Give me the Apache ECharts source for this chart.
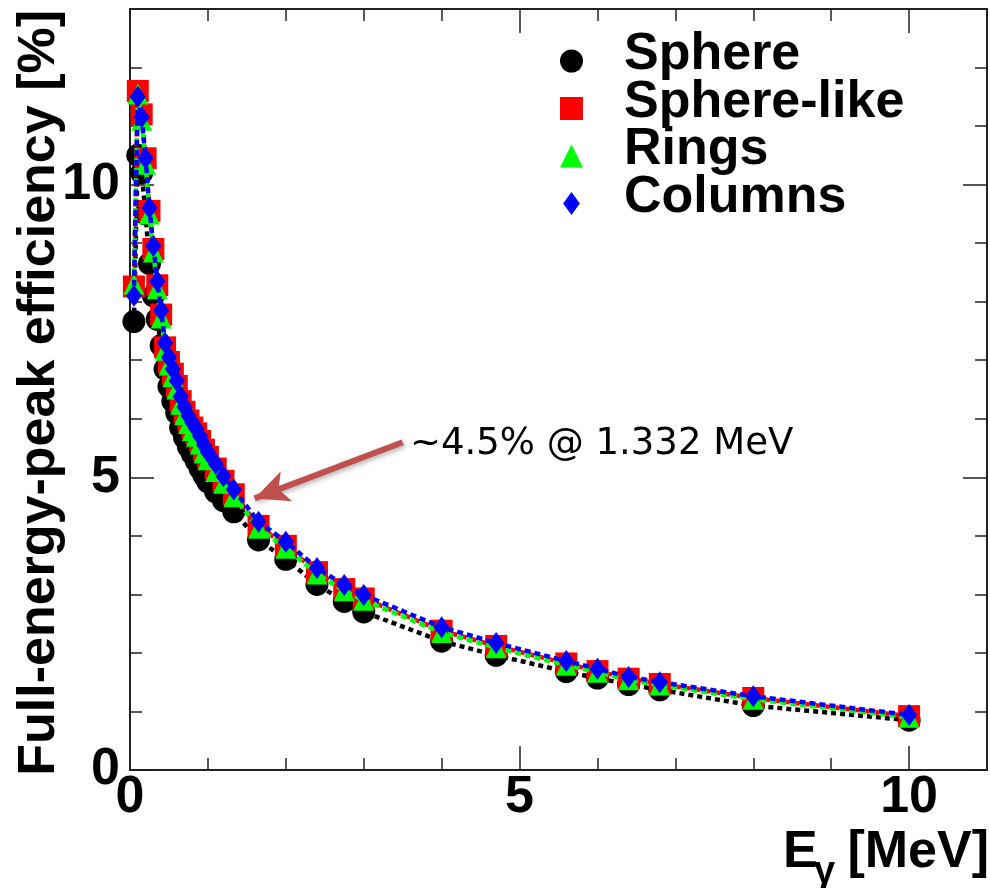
<!DOCTYPE html>
<html>
<head>
<meta charset="utf-8">
<script src="https://cdn.jsdelivr.net/npm/echarts@6/dist/echarts.min.js"></script>
<style>
html,body{margin:0;padding:0;background:#fff;}
#chart{width:990px;height:888px;}
</style>
</head>
<body>
<div id="chart"></div>
<script>
// ---- data ----
const energies = [0.05, 0.1, 0.15, 0.2, 0.25, 0.3, 0.35, 0.4, 0.45, 0.5, 0.55, 0.6, 0.65, 0.7, 0.75, 0.8, 0.85, 0.9, 0.95, 1.0, 1.1, 1.2, 1.332, 1.65, 2.0, 2.4, 2.75, 3.0, 4.0, 4.7, 5.6, 6.0, 6.4, 6.8, 8.0, 10.0];
const sphere = [7.66, 10.5, 10.2, 9.5, 8.65, 8.1, 7.7, 7.25, 6.85, 6.55, 6.3, 6.1, 5.85, 5.68, 5.52, 5.4, 5.28, 5.15, 5.03, 4.92, 4.75, 4.6, 4.41, 3.93, 3.6, 3.17, 2.88, 2.7, 2.2, 1.96, 1.68, 1.57, 1.46, 1.37, 1.1, 0.85];
const sphereLike = [8.26, 11.6, 11.2, 10.45, 9.55, 8.9, 8.28, 7.78, 7.22, 6.97, 6.77, 6.56, 6.3, 6.12, 5.97, 5.85, 5.75, 5.62, 5.47, 5.35, 5.15, 4.94, 4.71, 4.17, 3.83, 3.38, 3.09, 2.93, 2.38, 2.12, 1.82, 1.69, 1.56, 1.47, 1.23, 0.92];
const rings = [8.3, 11.55, 11.1, 10.35, 9.5, 8.85, 8.22, 7.72, 7.17, 6.92, 6.72, 6.51, 6.25, 6.07, 5.92, 5.8, 5.7, 5.57, 5.42, 5.3, 5.1, 4.9, 4.67, 4.13, 3.79, 3.35, 3.06, 2.9, 2.35, 2.09, 1.79, 1.67, 1.54, 1.45, 1.21, 0.9];
const columns = [8.1, 11.5, 11.15, 10.45, 9.6, 8.95, 8.35, 7.85, 7.3, 7.05, 6.85, 6.65, 6.38, 6.2, 6.05, 5.93, 5.83, 5.7, 5.55, 5.43, 5.23, 5.02, 4.79, 4.24, 3.9, 3.45, 3.16, 2.99, 2.44, 2.17, 1.86, 1.73, 1.59, 1.5, 1.26, 0.94];
const seriesNames = ['Sphere', 'Sphere-like', 'Rings', 'Columns'];
const xTickLabels = [0, 5, 10];
const yTickLabels = [0, 5, 10];
const annotationText = '~4.5% @ 1.332 MeV';
const arrowFrom = [3.50, 5.60];
const arrowTo = [1.60, 4.64];

// ---- helpers ----
const FONT = 'Liberation Sans';
const AX = '#222';
function pairs(ys) { return energies.map((e, i) => [e, ys[i]]); }

function xAxis(pos, interval, len, labels) {
  return {
    type: 'value', min: 0, max: 11, interval: interval, position: pos,
    axisLine: { show: interval === 1, onZero: false, lineStyle: { color: AX, width: 2 } },
    axisTick: { show: true, inside: true, length: len, lineStyle: { color: AX, width: 1.5 } },
    axisLabel: labels ? {
      show: true, margin: 2, fontSize: 52, fontWeight: 'bold', fontFamily: FONT, color: '#000',
      formatter: v => xTickLabels.indexOf(v) >= 0 ? String(v) : ''
    } : { show: false },
    splitLine: { show: false }
  };
}
function yAxis(pos, interval, len, labels) {
  return {
    type: 'value', min: 0, max: 13, interval: interval, position: pos,
    axisLine: { show: interval === 1, onZero: false, lineStyle: { color: AX, width: 2 } },
    axisTick: { show: true, inside: true, length: len, lineStyle: { color: AX, width: 1.5 } },
    axisLabel: labels ? {
      show: true, margin: 10, fontSize: 52, fontWeight: 'bold', fontFamily: FONT, color: '#000',
      formatter: v => yTickLabels.indexOf(v) >= 0 ? String(v) : ''
    } : { show: false },
    splitLine: { show: false }
  };
}

const colors = ['#000000', '#ff0000', '#00ff00', '#0000ff'];
const symbols = ['circle', 'rect', 'triangle', 'diamond'];
const sizes = [23, 22, 21, [16, 22]];
const dashes = [[5, 4], [6, 4], [6, 4], [6, 4]];
const values = [sphere, sphereLike, rings, columns];

const series = seriesNames.map((name, k) => ({
  name: name, type: 'line', xAxisIndex: 0, yAxisIndex: 0,
  data: pairs(values[k]),
  symbol: symbols[k], symbolSize: sizes[k], showSymbol: true, showAllSymbol: true,
  itemStyle: { color: colors[k] },
  lineStyle: { color: colors[k], width: 4.5, type: dashes[k] },
  z: 2 + k
}));
series[3].markLine = {
  silent: true, animation: false,
  symbol: ['none', 'arrow'], symbolSize: [24, 34],
  label: { show: false },
  lineStyle: { color: '#C0504D', width: 6, type: 'solid', shadowBlur: 5, shadowColor: 'rgba(0,0,0,0.3)', shadowOffsetX: 2, shadowOffsetY: 2 },
  data: [[{ coord: arrowFrom }, { coord: arrowTo }]]
};

const chart = echarts.init(document.getElementById('chart'), null, { renderer: 'canvas' });
chart.setOption({
  animation: false,
  backgroundColor: '#fff',
  grid: { left: 130, right: -2, top: 9, bottom: 118, containLabel: false },
  xAxis: [xAxis('bottom', 1, 12, false), xAxis('bottom', 5, 24, true), xAxis('top', 1, 12, false), xAxis('top', 5, 24, false)],
  yAxis: [yAxis('left', 1, 12, false), yAxis('left', 5, 24, true), yAxis('right', 1, 12, false), yAxis('right', 5, 24, false)],
  legend: {
    orient: 'vertical', left: 560, top: 29, padding: 0,
    itemWidth: 23, itemHeight: 23, itemGap: -16.5, selectedMode: false,
    data: [
      { name: 'Sphere', icon: 'circle' },
      { name: 'Sphere-like', icon: 'rect' },
      { name: 'Rings', icon: 'triangle' },
      { name: 'Columns', icon: 'path://M8,0L16,11L8,22L0,11Z' }
    ],
    formatter: name => '{t|' + name + '}',
    textStyle: {
      fontSize: 52, fontWeight: 'bold', fontFamily: FONT, color: '#000',
      rich: { t: { fontSize: 52, fontWeight: 'bold', fontFamily: FONT, color: '#000', lineHeight: 52, padding: [0, 0, 12, 36] } }
    }
  },
  graphic: [
    { type: 'text', x: 40, y: 10, rotation: Math.PI / 2,
      style: { text: 'Full-energy-peak efficiency [%]', font: 'bold 52px "Liberation Sans"', fill: '#000', align: 'right', verticalAlign: 'middle' } },
    { type: 'text', x: 783, y: 853,
      style: { text: 'E', font: 'bold 52px "Liberation Sans"', fill: '#000', align: 'left', verticalAlign: 'middle' } },
    { type: 'text', x: 814, y: 873,
      style: { text: 'γ', font: 'bold 38px "Liberation Sans"', fill: '#000', align: 'left', verticalAlign: 'middle' } },
    { type: 'text', x: 989, y: 853,
      style: { text: '[MeV]', font: 'bold 52px "Liberation Sans"', fill: '#000', align: 'right', verticalAlign: 'middle' } },
    { type: 'text', x: 410, y: 444,
      style: { text: annotationText, font: '37px "DejaVu Sans"', fill: '#000', align: 'left', verticalAlign: 'middle' } }
  ],
  series: series
});
</script>
</body>
</html>
